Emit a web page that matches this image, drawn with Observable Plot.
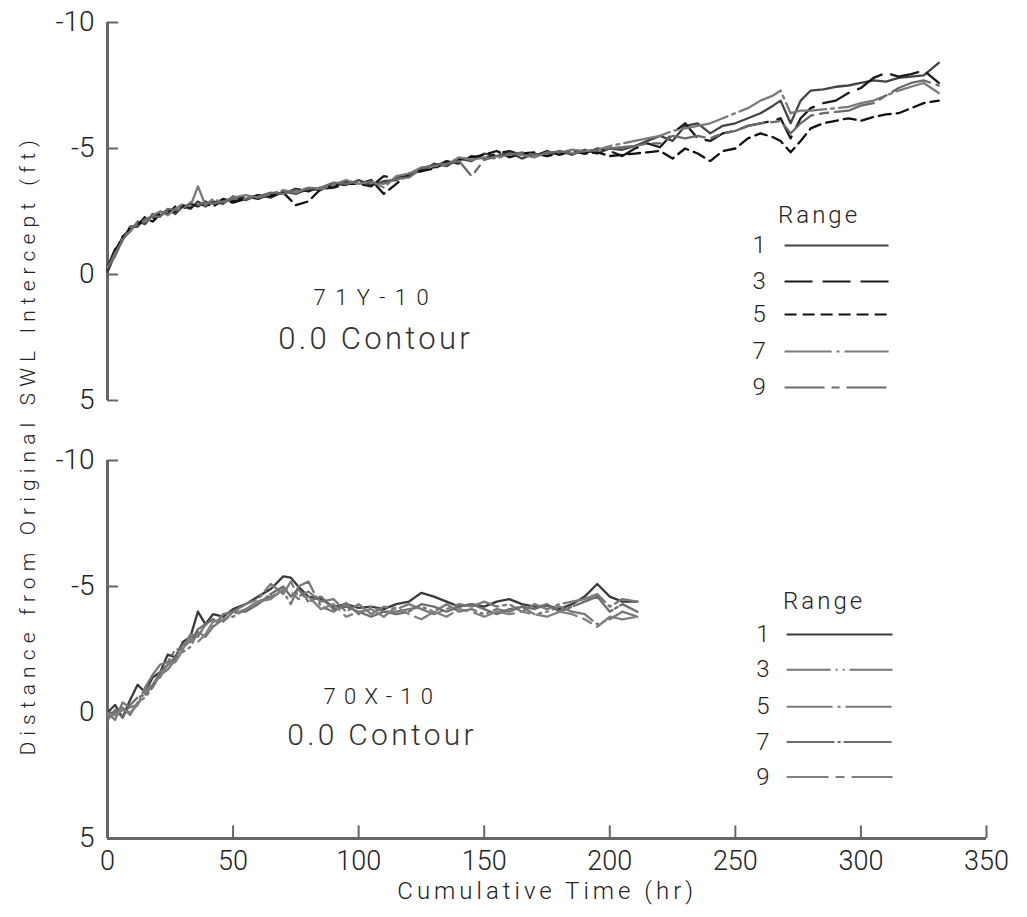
<!DOCTYPE html>
<html>
<head>
<meta charset="utf-8">
<script src="https://cdn.jsdelivr.net/npm/d3@7"></script>
<script src="https://cdn.jsdelivr.net/npm/@observablehq/plot@0.6"></script>
<style>
  body { margin: 0; background: #fff; }
  #chart svg { display: block; }
</style>
</head>
<body>
<div id="chart"></div>
<script>
// ---------- data ----------
const panels = ["71Y-10", "70X-10"];
const ranges = ["1", "3", "5", "7", "9"];
const xTicks = [0, 50, 100, 150, 200, 250, 300, 350];
const yTicks = [-10, -5, 0, 5];
const xLabel = "Cumulative Time (hr)";
const yLabel = "Distance from Original SWL Intercept (ft)";
const contourLabel = "0.0 Contour";
const legendTitle = "Range";

const timesTop = [0,3,6,9,12,15,18,21,24,27, 30,33,36,39,42,46,50,55,60,65, 70,75,80,85,90,95,100,105,110,115,
  120,125,130,135,140,145,150,155,160,165, 170,175,180,185,190,195,200,205,210,215, 220,225,230,235,240,245,250,255,260,265,
  268,272,276,280,285,290,295,300,305,310, 315,320,325,331];
const top1 = [-0.1,-0.8,-1.5,-1.7,-2.1,-2.0,-2.4,-2.3,-2.6,-2.4, -2.7,-2.6,-2.9,-2.7,-2.9,-2.8,-3.1,-2.95,-3.15,-3.05,
  -3.3,-3.2,-3.4,-3.35,-3.6,-3.55,-3.75,-3.55,-3.7,-3.75, -4.0,-4.1,-4.4,-4.3,-4.6,-4.5,-4.8,-4.7,-4.85,-4.6,
  -4.8,-4.7,-4.9,-4.75,-4.95,-4.8,-5.0,-4.95,-5.1,-5.3, -5.5,-5.3,-5.9,-6.0,-5.6,-5.9,-6.0,-6.2,-6.4,-6.7,
  -6.9,-6.0,-6.9,-7.3,-7.35,-7.45,-7.5,-7.6,-7.7,-7.65, -7.8,-7.85,-7.9,-8.4];
const top3 = [-0.3,-1.0,-1.3,-1.9,-1.9,-2.3,-2.2,-2.5,-2.4,-2.7, -2.6,-2.8,-2.7,-2.9,-2.75,-3.0,-2.9,-3.1,-3.0,-3.2,
  -3.2,-3.4,-3.3,-3.5,-3.5,-3.7,-3.6,-3.5,-3.9,-3.85, -3.9,-4.2,-4.25,-4.5,-4.4,-4.7,-4.6,-4.8,-4.9,-4.75,
  -4.7,-4.9,-4.75,-4.9,-4.8,-5.0,-4.9,-4.7,-5.0,-5.2, -5.05,-5.6,-6.0,-5.4,-5.3,-5.6,-5.7,-5.9,-6.0,-6.1,
  -6.2,-5.4,-6.2,-6.6,-6.8,-6.9,-7.2,-7.4,-7.8,-8.0, -7.85,-7.95,-8.1,-7.6];
const top5 = [-0.2,-0.9,-1.5,-1.8,-2.0,-2.25,-2.1,-2.4,-2.55,-2.5, -2.75,-2.65,-2.75,-2.8,-2.7,-2.95,-2.85,-3.0,-3.15,-3.1,
  -3.25,-2.75,-2.9,-3.4,-3.45,-3.6,-3.6,-3.75,-3.2,-3.6, -4.0,-4.1,-4.2,-4.45,-4.55,-4.65,-4.75,-4.9,-4.65,-4.8,
  -4.85,-4.7,-4.8,-4.9,-4.8,-4.85,-4.7,-4.75,-4.8,-4.85, -4.9,-4.6,-5.0,-4.8,-4.5,-4.9,-5.0,-5.4,-5.6,-5.45,
  -5.3,-4.85,-5.3,-5.8,-6.0,-6.1,-6.2,-6.1,-6.25,-6.35, -6.4,-6.6,-6.8,-6.9];
const top7 = [-0.3,-0.7,-1.4,-1.7,-2.1,-2.1,-2.35,-2.5,-2.35,-2.6, -2.8,-2.7,-3.5,-2.75,-3.0,-2.85,-3.05,-3.15,-3.05,-3.2,
  -3.35,-3.25,-3.45,-3.4,-3.55,-3.75,-3.6,-3.7,-3.45,-3.9, -4.0,-4.25,-4.3,-4.35,-4.65,-4.55,-4.65,-4.6,-4.8,-4.75,
  -4.65,-4.85,-4.85,-4.95,-4.9,-4.95,-5.1,-5.2,-5.3,-5.4, -5.5,-5.7,-5.8,-5.9,-6.0,-6.2,-6.4,-6.6,-6.9,-7.1,
  -7.3,-6.4,-6.5,-6.5,-6.55,-6.6,-6.65,-6.8,-6.9,-7.1, -7.3,-7.45,-7.6,-7.2];
const top9 = [-0.25,-0.85,-1.35,-1.9,-1.95,-2.2,-2.3,-2.3,-2.6,-2.55, -2.6,-2.85,-2.75,-2.85,-2.8,-2.9,-3.0,-3.0,-3.1,-3.25,
  -3.2,-3.35,-3.4,-3.45,-3.65,-3.6,-3.7,-3.65,-3.6,-3.8, -3.85,-4.2,-4.35,-4.4,-4.5,-3.9,-4.55,-4.7,-4.75,-4.85,
  -4.75,-4.8,-4.9,-4.8,-4.9,-4.95,-5.0,-5.05,-5.1,-5.2, -5.2,-5.5,-5.4,-5.5,-5.4,-5.6,-5.7,-5.9,-6.0,-6.05,
  -6.1,-5.6,-6.0,-6.3,-6.4,-6.45,-6.5,-6.7,-6.8,-7.1, -7.4,-7.6,-7.7,-7.5];

const timesBottom = [0,3,6,9,12,15,18,21,24,27, 30,33,36,39,42,46,50,55,60,65, 70,73,76,80,85,90,95,100,105,110,
  115,120,125,130,135,140,145,150,155,160, 165,170,175,180,185,190,195,200,205,211];
const bot1 = [0.0,-0.3,0.2,-0.5,-1.1,-0.8,-1.4,-1.6,-2.3,-2.2, -2.8,-3.0,-4.0,-3.5,-3.9,-3.8,-4.1,-4.3,-4.6,-4.9,
  -5.4,-5.35,-5.0,-4.6,-4.5,-4.2,-4.3,-4.15,-4.2,-4.1, -4.3,-4.4,-4.75,-4.6,-4.4,-4.2,-4.3,-4.2,-4.4,-4.5,
  -4.3,-4.2,-4.25,-4.1,-4.3,-4.6,-5.1,-4.6,-4.4,-4.4];
const bot3 = [0.2,0.0,-0.2,0.1,-0.4,-0.6,-1.0,-1.5,-1.7,-2.1, -2.4,-2.6,-3.2,-3.0,-3.4,-3.7,-3.8,-4.1,-4.4,-4.6,
  -4.8,-4.3,-5.0,-5.2,-4.2,-4.0,-4.35,-3.9,-4.2,-4.0, -4.0,-4.1,-4.2,-4.0,-4.3,-4.0,-4.1,-3.9,-4.1,-4.0,
  -4.2,-3.9,-4.0,-4.2,-4.0,-3.9,-3.5,-3.7,-4.0,-3.8];
const bot5 = [0.0,0.3,-0.4,-0.2,-0.3,-1.0,-1.5,-1.9,-2.0,-2.5, -2.5,-3.1,-3.0,-3.5,-3.4,-3.9,-4.0,-4.3,-4.5,-5.1,
  -4.7,-5.2,-4.6,-4.8,-4.4,-4.5,-4.0,-4.3,-3.9,-4.2, -4.1,-4.3,-4.1,-3.9,-4.1,-4.3,-4.2,-4.4,-4.2,-4.3,
  -4.0,-4.3,-4.1,-4.3,-4.4,-4.5,-4.7,-4.2,-4.5,-4.4];
const bot7 = [0.3,-0.1,0.2,-0.3,-0.6,-0.7,-1.1,-1.6,-1.9,-2.2, -2.7,-2.8,-3.3,-3.5,-3.7,-3.6,-4.0,-4.0,-4.3,-4.7,
  -5.0,-4.6,-4.9,-4.4,-4.6,-4.1,-4.2,-4.0,-3.8,-4.0, -3.9,-4.0,-4.3,-4.2,-4.0,-4.2,-4.3,-4.1,-3.9,-4.1,
  -4.2,-4.1,-4.3,-4.0,-4.2,-4.4,-4.6,-4.0,-4.3,-4.0];
const bot9 = [0.1,0.1,-0.1,0.0,-0.3,-0.8,-1.2,-1.4,-1.9,-2.0, -2.5,-2.9,-2.8,-3.1,-3.6,-3.7,-3.9,-4.1,-4.4,-4.5,
  -4.9,-4.8,-4.5,-4.6,-4.1,-4.3,-3.8,-4.0,-4.1,-3.8, -4.2,-3.9,-3.7,-4.0,-3.8,-4.1,-4.0,-3.8,-4.0,-3.9,
  -4.0,-3.9,-3.8,-4.0,-3.9,-3.7,-3.4,-3.8,-3.7,-3.8];

// ---------- table built from the arrays ----------
const seriesByPanel = {
  "71Y-10": {times: timesTop, values: {"1": top1, "3": top3, "5": top5, "7": top7, "9": top9}},
  "70X-10": {times: timesBottom, values: {"1": bot1, "3": bot3, "5": bot5, "7": bot7, "9": bot9}}
};
const rows = [];
for (const p of panels) {
  const s = seriesByPanel[p];
  for (const r of ranges) s.values[r].forEach((v, i) => rows.push({panel: p, range: r, t: s.times[i], v}));
}

// ---------- styles / layout ----------
const font = "Roboto, 'DejaVu Sans', sans-serif";
const axisColor = "#666";
const textColor = "#222";
const styles = {
  "71Y-10": {
    "1": {stroke: "#444", dash: null},
    "3": {stroke: "#1a1a1a", dash: "28,10"},
    "5": {stroke: "#111", dash: "12,6"},
    "7": {stroke: "#7a7a7a", dash: "47,5,3,5"},
    "9": {stroke: "#6a6a6a", dash: "40,7,8,7"}
  },
  "70X-10": {
    "1": {stroke: "#3a3a3a", dash: null},
    "3": {stroke: "#777", dash: "44,5,2,5,2,5"},
    "5": {stroke: "#7a7a7a", dash: "46,5,3,5"},
    "7": {stroke: "#6e6e6e", dash: "48,3,3,3"},
    "9": {stroke: "#808080", dash: "42,7,9,7"}
  }
};
// label positions (data units, start-anchored text)
const layout = {
  "71Y-10": {id: [82.0, 0.95, 22, 9.5], contour: [68.0, 2.55, 31, 3.5], title: [267.0, -2.34], numX: 259.5, line: [269.8, 311.2], rows: [-1.15, 0.28, 1.59, 3.06, 4.48]},
  "70X-10": {id: [86.0, -0.6, 22, 8.3], contour: [71.6, 0.9, 30, 3.0], title: [269.0, -4.42], numX: 261, line: [270.6, 312.8], rows: [-3.1, -1.7, -0.23, 1.17, 2.56]}
};
const yLabelPos = [-31.4, 19.09];
const xLabelPos = [115.4, 7.1];

const marks = [];
marks.push(Plot.ruleX([0], {y1: -10, y2: 5, stroke: axisColor, strokeWidth: 3}));
marks.push(Plot.ruleY(yTicks, {x1: 0, x2: 4.4, stroke: axisColor, strokeWidth: 2}));
marks.push(Plot.ruleY([5], {x1: 0, x2: 350, fy: () => panels[1], stroke: axisColor, strokeWidth: 3}));
marks.push(Plot.ruleX(xTicks.slice(1), {y1: 5, y2: 4.5, fy: () => panels[1], stroke: axisColor, strokeWidth: 2}));
marks.push(Plot.axisY({ticks: yTicks, tickSize: 0, tickPadding: 13, tickFormat: d => String(d), fontSize: 28, label: null, color: textColor}));
marks.push(Plot.axisX({ticks: xTicks, tickSize: 0, tickPadding: 12, tickFormat: d => String(d), fontSize: 27, label: null, color: textColor}));
marks.push(Plot.text([yLabel], {x: yLabelPos[0], y: yLabelPos[1], rotate: -90, textAnchor: "start", fy: () => panels[0], fontSize: 21, fill: textColor, text: d => d}));
marks.push(Plot.text([xLabel], {x: xLabelPos[0], y: xLabelPos[1], textAnchor: "start", fy: () => panels[1], fontSize: 24, fill: textColor, text: d => d}));

for (const p of panels) {
  const L = layout[p];
  for (const r of ranges) {
    const st = styles[p][r];
    marks.push(Plot.line(rows.filter(d => d.panel === p && d.range === r), {
      x: "t", y: "v", fy: "panel", stroke: st.stroke, strokeWidth: 2.3,
      strokeDasharray: st.dash || undefined, strokeLinejoin: "round"
    }));
  }
  marks.push(Plot.text([p], {x: L.id[0], y: L.id[1], textAnchor: "start", fy: () => p, text: d => d, fontSize: L.id[2], fill: textColor}));
  marks.push(Plot.text([contourLabel], {x: L.contour[0], y: L.contour[1], textAnchor: "start", fy: () => p, text: d => d, fontSize: L.contour[2], fill: "#333"}));
  marks.push(Plot.text([legendTitle], {x: L.title[0], y: L.title[1], textAnchor: "start", fy: () => p, text: d => d, fontSize: 24, fill: textColor}));
  ranges.forEach((r, i) => {
    const st = styles[p][r];
    marks.push(Plot.ruleY([L.rows[i]], {x1: L.line[0], x2: L.line[1], fy: () => p, stroke: st.stroke, strokeWidth: 2, strokeDasharray: st.dash || undefined}));
    marks.push(Plot.text([r], {x: L.numX, y: L.rows[i], fy: () => p, text: d => d, fontSize: 24, fill: textColor}));
  });
}

const chart = Plot.plot({
  width: 1027,
  height: 917,
  marginLeft: 107,
  marginRight: 41,
  marginTop: 22,
  marginBottom: 79,
  style: {fontFamily: font, background: "#fff", fontWeight: 300},
  x: {domain: [0, 350]},
  y: {domain: [-10, 5], reverse: true},
  fy: {domain: panels, paddingInner: 0.137, paddingOuter: 0, axis: null, label: null},
  marks
});
document.getElementById("chart").appendChild(chart);

// letter spacing to mimic the wide lettering of the original
const spacing = new Map([
  [yLabel, 6.1], [xLabel, 4], [legendTitle, 3]
]);
d3.select(chart).selectAll("text").each(function () {
  const t = this.textContent;
  const parent = this.parentNode && this.parentNode.getAttribute("aria-label");
  let ls = null;
  if (t === panels[0] || t === panels[1]) ls = layout[t].id[3];
  else if (spacing.has(t)) ls = spacing.get(t);
  else if (t === contourLabel) ls = 3.3;
  else if (parent && /tick label/.test(parent)) ls = 3;
  if (ls != null) d3.select(this).style("letter-spacing", ls + "px");
});
</script>
</body>
</html>
